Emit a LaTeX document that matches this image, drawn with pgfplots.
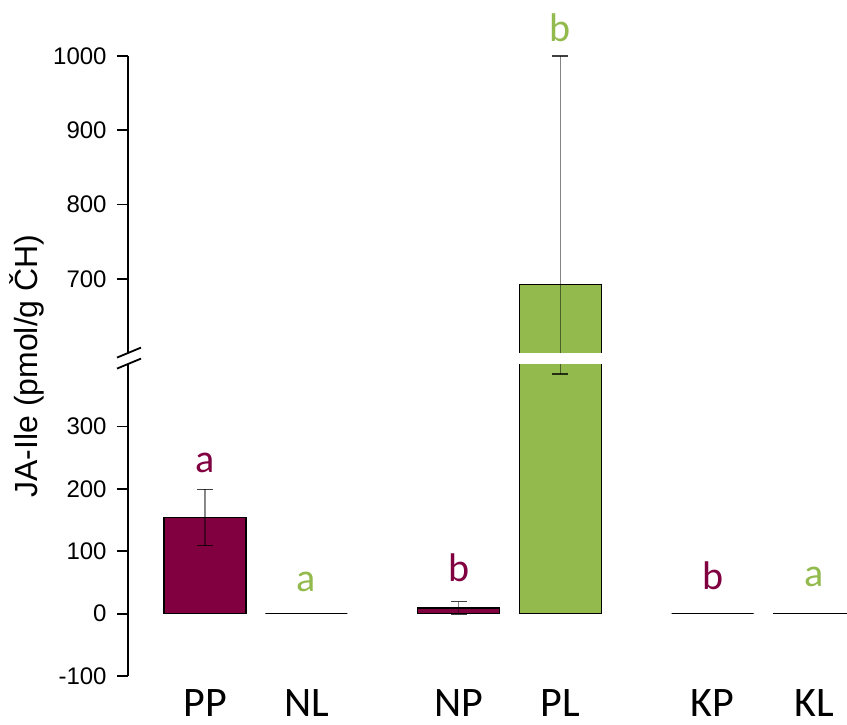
\documentclass[border=0pt]{standalone}
\usepackage{fontspec}
\setmainfont{Liberation Sans}
\newfontfamily\calibri{Carlito}
\usepackage{pgfplots}
\usepackage{pgfplotstable}
\pgfplotsset{compat=1.18}
\definecolor{maroon}{RGB}{128,0,64}
\definecolor{lgreen}{RGB}{146,186,76}

\pgfplotstableread{
x y e
0 154 45
2.5 9 10
5 0 0
}\purpledata
\pgfplotstableread{
x y e
1 0 0
3.5 692 308
6 0 0
}\greendata
\pgfplotstableread{
x y e
3.5 692 308
}\pldata

\pgfplotsset{
  brk/.style={
    scale only axis, width=359.5pt,
    xmin=-0.7586, xmax=6.325,
    axis y line*=left,
    tick align=outside,
    major tick length=5.5pt,
    y axis line style={line width=0.9pt},
    ytick style={line width=0.9pt, black},
    yticklabel style={font=\fontsize{12}{14}\selectfont, inner sep=0pt, xshift=-5pt},
  },
  bars/.style={ybar, bar width=41pt, bar shift=0pt, draw=black, line width=0.6pt},
  eb/.style={error bars/.cd, y dir=both, y explicit,
    error bar style={black, opacity=0.45, line width=0.6pt},
    error mark options={rotate=90, black, opacity=0.75, mark size=4pt, line width=0.6pt}},
}

\begin{document}
\begin{tikzpicture}
\useasboundingbox (-64pt,-24pt) rectangle (359.5pt,338pt);
% lower segment
\begin{axis}[brk, at={(0,0)}, anchor=south west, height=156pt,
  ymin=-100, ymax=400,
  ytick={-100,0,100,200,300}, yticklabels={-100,0,100,200,300},
  axis x line*=bottom, x axis line style={draw=none},
  xtick={0,1,2.5,3.5,5,6}, xticklabels={PP,NL,NP,PL,KP,KL},
  xtick style={draw=none},
  xticklabel style={font=\calibri\fontsize{21}{25}\selectfont, inner sep=0pt, anchor=base, yshift=-14.5pt},
]
\addplot[bars, fill=maroon, eb] table[x=x, y=y, y error=e] {\purpledata};
\addplot[bars, fill=lgreen, eb] table[x=x, y=y, y error=e] {\greendata};
\coordinate (lPP) at (axis cs:0,226);
\coordinate (lNL) at (axis cs:1,35);
\coordinate (lNP) at (axis cs:2.5,51);
\coordinate (lKP) at (axis cs:5,38);
\coordinate (lKL) at (axis cs:6,43);
\coordinate (lt) at (rel axis cs:0,1);
\end{axis}
% upper segment
\begin{axis}[brk, at={(0,161.5pt)}, anchor=south west, height=148.5pt,
  ymin=600, ymax=1000,
  ytick={700,800,900,1000}, yticklabels={700,800,900,1000},
  axis x line=none,
]
\addplot[bars, fill=lgreen, draw=none, eb] table[x=x, y=y, y error=e] {\pldata};
\addplot[black, line width=0.6pt, mark=none] coordinates {(3.0961,600) (3.0961,692) (3.9039,692) (3.9039,600)};
\coordinate (lPL) at (axis cs:3.5,1019);
\coordinate (ub) at (rel axis cs:0,0);
\end{axis}
% letters
\begin{scope}[every node/.style={anchor=base, inner sep=0pt, font=\calibri\fontsize{20}{24}\selectfont}]
\node[text=maroon] at (lPP) {a};
\node[text=lgreen] at (lNL) {a};
\node[text=maroon] at (lNP) {b};
\node[text=lgreen] at (lPL) {b};
\node[text=maroon] at (lKP) {b};
\node[text=lgreen] at (lKL) {a};
\end{scope}
% axis break marks
\draw[line width=0.9pt] ([shift={(-5.5pt,-2.3pt)}]ub) -- ([shift={(6.5pt,2.7pt)}]ub);
\draw[line width=0.9pt] ([shift={(-5.5pt,-2.3pt)}]lt) -- ([shift={(6.5pt,2.7pt)}]lt);
% y label
\node[rotate=90, font=\fontsize{16}{19}\selectfont] at (-50.5pt,155pt) {JA-Ile (pmol/g ČH)};
\end{tikzpicture}
\end{document}
